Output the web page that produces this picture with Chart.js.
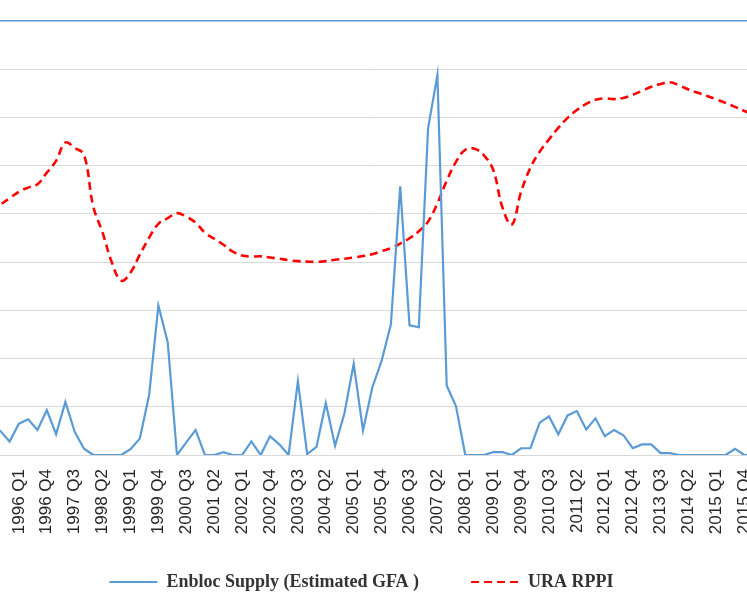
<!DOCTYPE html>
<html>
<head>
<meta charset="utf-8">
<title>Enbloc Supply vs URA RPPI</title>
<script src="https://cdn.jsdelivr.net/npm/chart.js@4.4.1/dist/chart.umd.min.js"></script>
<style>
    html, body { margin: 0; padding: 0; background: #fff; overflow: hidden; width: 747px; height: 598px; }
    #wrap { position: absolute; left: -57px; top: 0; width: 837px; height: 601px; }
</style>
</head>
<body>
<div id="wrap"><canvas id="chart"></canvas></div>
<script>
// quarters (the source skips one quarter in 2008)
var quarters = [
    '1995 Q2', '1995 Q3', '1995 Q4',
    '1996 Q1', '1996 Q2', '1996 Q3', '1996 Q4',
    '1997 Q1', '1997 Q2', '1997 Q3', '1997 Q4',
    '1998 Q1', '1998 Q2', '1998 Q3', '1998 Q4',
    '1999 Q1', '1999 Q2', '1999 Q3', '1999 Q4',
    '2000 Q1', '2000 Q2', '2000 Q3', '2000 Q4',
    '2001 Q1', '2001 Q2', '2001 Q3', '2001 Q4',
    '2002 Q1', '2002 Q2', '2002 Q3', '2002 Q4',
    '2003 Q1', '2003 Q2', '2003 Q3', '2003 Q4',
    '2004 Q1', '2004 Q2', '2004 Q3', '2004 Q4',
    '2005 Q1', '2005 Q2', '2005 Q3', '2005 Q4',
    '2006 Q1', '2006 Q2', '2006 Q3', '2006 Q4',
    '2007 Q1', '2007 Q2', '2007 Q3', '2007 Q4',
    '2008 Q1', '2008 Q2', '2008 Q3',
    '2009 Q1', '2009 Q2', '2009 Q3', '2009 Q4',
    '2010 Q1', '2010 Q2', '2010 Q3', '2010 Q4',
    '2011 Q1', '2011 Q2', '2011 Q3', '2011 Q4',
    '2012 Q1', '2012 Q2', '2012 Q3', '2012 Q4',
    '2013 Q1', '2013 Q2', '2013 Q3', '2013 Q4',
    '2014 Q1', '2014 Q2', '2014 Q3', '2014 Q4',
    '2015 Q1', '2015 Q2', '2015 Q3', '2015 Q4',
    '2016 Q1'
];

var enblocSupply = [
    45, 50, 28,
    65, 74, 52, 93,
    43, 110, 48, 13,
    0, 0, 0, 0,
    12, 34, 124, 310,
    234, 0, 26, 52,
    0, 0, 6, 0,
    0, 28, 0, 39,
    22, 0, 153, 2,
    17, 108, 19, 86,
    189, 51, 140, 195,
    271, 557, 269, 265,
    678, 788, 144, 101,
    0, 0, 0,
    6, 6, 0, 14,
    14, 67, 80, 43,
    82, 91, 53, 76,
    39, 52, 41, 14,
    22, 22, 4, 4,
    0, 0, 0, 0,
    0, 0, 13, 0,
    0
];

var uraRppi = [
    101.0, 103.8, 106.5,
    109.2, 110.9, 112.3, 117.1,
    122.0, 129.6, 127.4, 124.5,
    103.0, 92.2, 79.8, 72.3,
    75.7, 83.1, 90.1, 95.9,
    98.2, 100.3, 98.8, 96.4,
    92.2, 89.7, 87.2, 84.3,
    82.7, 82.3, 82.4, 81.9,
    81.4, 80.8, 80.4, 80.2,
    80.1, 80.4, 81.0, 81.4,
    81.9, 82.5, 83.3, 84.6,
    85.8, 87.7, 89.9, 92.8,
    96.8, 104.4, 113.7, 121.6,
    126.6, 127.0, 124.3,
    118.3, 102.6, 95.5, 109.2,
    119.1, 125.8, 130.9, 135.7,
    139.8, 143.1, 145.6, 147.3,
    147.9, 147.6, 148.1, 149.4,
    151.0, 152.7, 153.9, 154.6,
    153.3, 151.6, 150.2, 148.9,
    147.5, 146.0, 144.4, 142.7,
    141.1
];

var seriesNames = ['Enbloc Supply (Estimated GFA )', 'URA RPPI'];

var ctx = document.getElementById('chart');
var chart = new Chart(ctx, {
    type: 'line',
    data: {
        labels: quarters,
        datasets: [{
            label: seriesNames[0],
            data: enblocSupply,
            yAxisID: 'y',
            borderColor: '#5b9bd5',
            backgroundColor: '#5b9bd5',
            borderWidth: 2.2,
            pointRadius: 0,
            tension: 0
        }, {
            label: seriesNames[1],
            data: uraRppi,
            yAxisID: 'y1',
            borderColor: '#ff0000',
            backgroundColor: '#ff0000',
            borderWidth: 2.6,
            borderDash: [8, 5],
            pointRadius: 0,
            tension: 0.4
        }]
    },
    options: {
        responsive: true,
        maintainAspectRatio: false,
        animation: false,
        layout: { padding: { top: 21, left: 0, right: 0, bottom: 0 } },
        plugins: {
            tooltip: { enabled: false },
            legend: {
                position: 'bottom',
                labels: {
                    usePointStyle: true,
                    pointStyle: 'line',
                    pointStyleWidth: 48,
                    padding: 34,
                    color: '#333333',
                    font: { family: '"Liberation Serif", "Times New Roman", serif', size: 18, weight: 'bold' },
                    generateLabels: function (chart) {
                        var items = Chart.defaults.plugins.legend.labels.generateLabels(chart);
                        items.forEach(function (item, i) {
                            var ds = chart.data.datasets[i];
                            item.lineDash = ds.borderDash || [];
                            item.lineWidth = 2;
                        });
                        // a bit of extra room after the first entry, like the original
                        items[0].text = items[0].text + '\u00a0\u00a0\u00a0\u00a0';
                        return items;
                    }
                }
            }
        },
        scales: {
            x: {
                offset: false,
                grid: { display: false },
                border: { display: false },
                ticks: {
                    autoSkip: false,
                    maxRotation: 90,
                    minRotation: 90,
                    padding: 6,
                    color: '#262626',
                    font: { family: '"Liberation Sans", Arial, sans-serif', size: 17 },
                    callback: function (value, index) {
                        return index % 3 === 0 ? this.getLabelForValue(value) : '';
                    }
                },
                afterFit: function (scale) { scale.height = 84; }
            },
            y: {
                min: 0,
                max: 900,
                ticks: { display: false, stepSize: 100 },
                border: { display: false },
                grid: {
                    drawTicks: false,
                    lineWidth: function (c) { return c.index === 9 ? 1.5 : 1; },
                    color: function (c) { return c.index === 9 ? '#5b9bd5' : '#d9d9d9'; }
                },
                afterFit: function (scale) { scale.width = 48; }
            },
            y1: {
                display: false,
                min: 0,
                max: 180
            }
        }
    }
});
</script>
</body>
</html>
